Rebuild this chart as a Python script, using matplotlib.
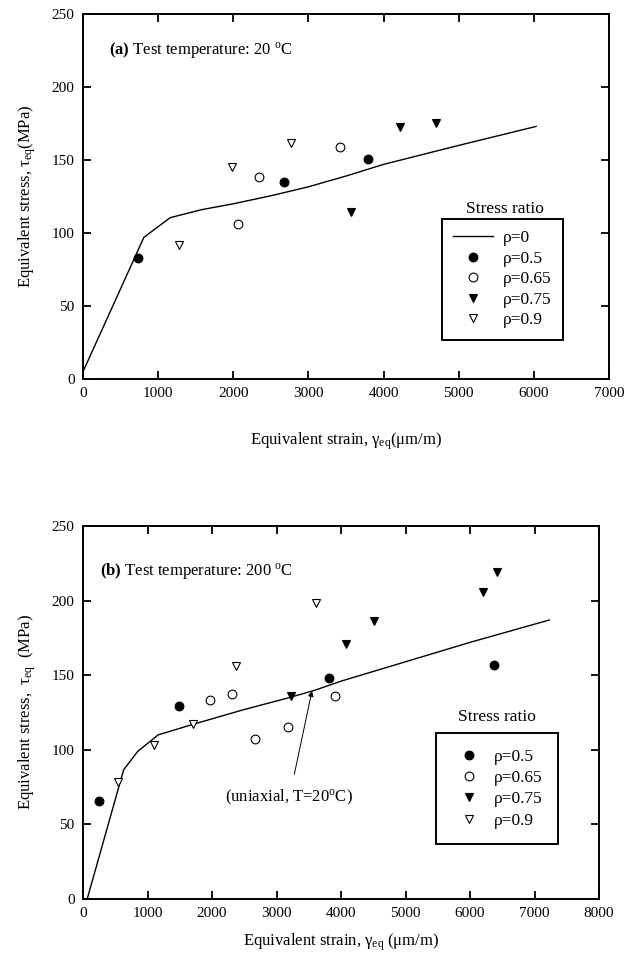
import numpy as np
import matplotlib.pyplot as plt

plt.rcParams['font.family'] = ['Liberation Serif', 'DejaVu Serif']
plt.rcParams['mathtext.fontset'] = 'custom'
plt.rcParams['mathtext.rm'] = 'Liberation Serif'
plt.rcParams['mathtext.it'] = 'Liberation Serif:italic'
plt.rcParams['mathtext.bf'] = 'Liberation Serif:bold'
plt.rcParams['font.size'] = 11

# (a) test temperature 20 C
a_line_x = [0, 810, 1160, 1580, 2000, 2500, 2990, 3500, 4000, 5000, 6030]
a_line_y = [5, 97, 110.5, 116, 120, 125.5, 131.5, 139, 147, 160, 173]
a_05_x = [726, 2676, 3797]
a_05_y = [82.6, 135.2, 150.5]
a_065_x = [2069, 2340, 3418]
a_065_y = [106.4, 138.6, 158.7]
a_075_x = [3570, 4220, 4697]
a_075_y = [114.6, 172.8, 175.6]
a_09_x = [1284, 1983, 2774]
a_09_y = [91.8, 145, 161.9]

# (b) test temperature 200 C
b_line_x = [65, 630, 850, 1165, 1700, 2500, 3200, 3600, 4000, 5000, 6000, 7230]
b_line_y = [0, 86.6, 99, 110, 117, 127, 135, 140, 146, 159, 172, 187]
b_05_x = [253, 1489, 3811, 6370]
b_05_y = [66, 129.4, 147.8, 157]
b_065_x = [1967, 2312, 2663, 3171, 3905]
b_065_y = [133.6, 137.2, 107.4, 115.2, 136.1]
b_075_x = [3220, 4080, 4513, 6194, 6426]
b_075_y = [136.3, 170.6, 186.1, 206, 219.3]
b_09_x = [549, 1094, 1709, 2368, 3617]
b_09_y = [78.3, 103.4, 117.4, 156.5, 198.4]

W, H = 636, 955
fig = plt.figure(figsize=(W / 100, H / 100), dpi=100)
ax1 = fig.add_axes([83 / W, 1 - 379 / H, (609 - 83) / W, (379 - 14) / H])
ax2 = fig.add_axes([83 / W, 1 - 899 / H, (599 - 83) / W, (899 - 526) / H])

ms = 6.3
fs = 12.5


def style(ax):
    for s in ax.spines.values():
        s.set_linewidth(1.4)
    ax.tick_params(direction='in', top=True, right=True, length=6, width=1.3,
                   labelsize=11, pad=6)


def scatter_sets(ax, sets):
    handles = []
    for x, y, m, fc, lab in sets:
        h, = ax.plot(x, y, ls='none', marker=m, ms=ms, mfc=fc, mec='black',
                     mew=0.8, label=lab)
        handles.append(h)
    return handles


# ---- panel (a)
l0, = ax1.plot(a_line_x, a_line_y, color='black', lw=1.0, label='ρ=0')
hs = scatter_sets(ax1, [(a_05_x, a_05_y, 'o', 'black', 'ρ=0.5'),
                        (a_065_x, a_065_y, 'o', 'white', 'ρ=0.65'),
                        (a_075_x, a_075_y, 'v', 'black', 'ρ=0.75'),
                        (a_09_x, a_09_y, 'v', 'white', 'ρ=0.9')])
ax1.set_xlim(0, 7000)
ax1.set_ylim(0, 250)
ax1.set_xticks(np.arange(0, 7001, 1000))
ax1.set_yticks(np.arange(0, 251, 50))
style(ax1)
ax1.set_xlabel('Equivalent strain, γ$_{\\mathrm{eq}}$(μm/m)', fontsize=12, labelpad=22)
ax1.set_ylabel('Equivalent stress, τ$_{\\mathrm{eq}}$(MPa)', fontsize=12, labelpad=10)
ax1.text(350, 225, r'$\mathbf{(a)}$ Test temperature: 20 $^{\mathrm{o}}$C', fontsize=12,
         va='center')
leg1 = ax1.legend(handles=[l0] + hs, loc='upper left',
                  bbox_to_anchor=(4780 / 7000, 109.6 / 250), frameon=True,
                  fancybox=False, edgecolor='black', framealpha=1,
                  handlelength=2.3, handletextpad=0.55, labelspacing=0.25,
                  borderpad=0.65, fontsize=fs, borderaxespad=0)
leg1.get_frame().set_linewidth(1.4)
ax1.text(5620, 116.5, 'Stress ratio', ha='center', va='center', fontsize=fs)

# ---- panel (b)
ax2.plot(b_line_x, b_line_y, color='black', lw=1.0)
hs2 = scatter_sets(ax2, [(b_05_x, b_05_y, 'o', 'black', 'ρ=0.5'),
                         (b_065_x, b_065_y, 'o', 'white', 'ρ=0.65'),
                         (b_075_x, b_075_y, 'v', 'black', 'ρ=0.75'),
                         (b_09_x, b_09_y, 'v', 'white', 'ρ=0.9')])
ax2.set_xlim(0, 8000)
ax2.set_ylim(0, 250)
ax2.set_xticks(np.arange(0, 8001, 1000))
ax2.set_yticks(np.arange(0, 251, 50))
style(ax2)
ax2.set_xlabel('Equivalent strain, γ$_{\\mathrm{eq}}$ (μm/m)', fontsize=12, labelpad=8)
ax2.set_ylabel('Equivalent stress,  τ$_{\\mathrm{eq}}$  (MPa)', fontsize=12, labelpad=10)
ax2.text(270, 220, r'$\mathbf{(b)}$ Test temperature: 200 $^{\mathrm{o}}$C', fontsize=12,
         va='center')
ax2.annotate('(uniaxial, T=20$^{\\mathrm{o}}$C)', xy=(3550, 139.5), xytext=(3200, 68),
             ha='center', va='center', fontsize=12,
             arrowprops=dict(arrowstyle='-|>', color='black', lw=0.7,
                             shrinkA=8, shrinkB=0, mutation_scale=8))
leg2 = ax2.legend(handles=hs2, loc='upper left',
                  bbox_to_anchor=(5480 / 8000, 111.3 / 250), frameon=True,
                  fancybox=False, edgecolor='black', framealpha=1,
                  handlelength=1.9, handletextpad=0.5, labelspacing=0.3,
                  borderpad=0.9, fontsize=fs, borderaxespad=0)
leg2.get_frame().set_linewidth(1.4)
ax2.text(6420, 122, 'Stress ratio', ha='center', va='center', fontsize=fs)

fig.savefig('out.png', dpi=100)
